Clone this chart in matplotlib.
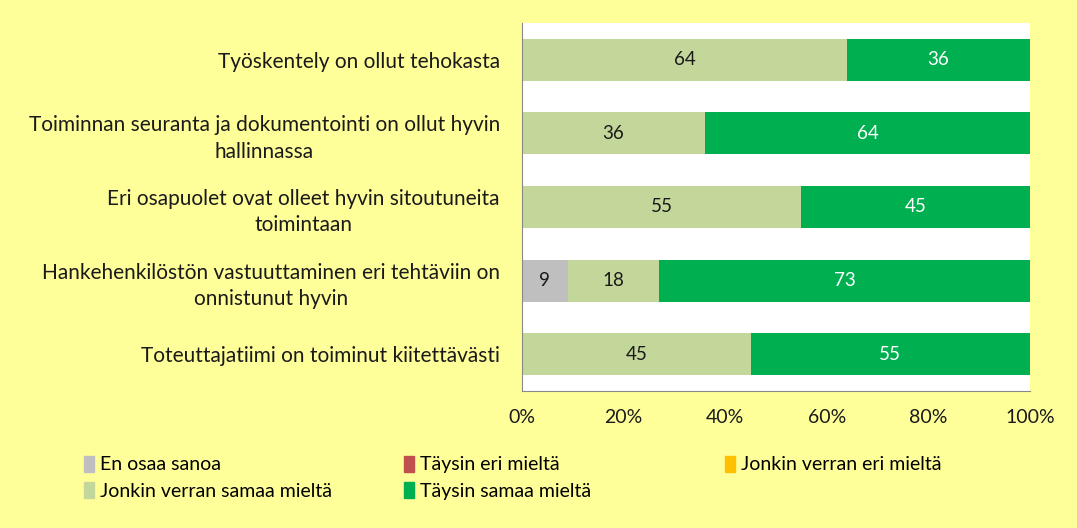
import numpy as np
import matplotlib.pyplot as plt
from matplotlib.patches import Patch

plt.rcParams['font.family'] = ['Lato', 'DejaVu Sans']

# väittämät (ylhäältä alas)
categories = [
    'Työskentely on ollut tehokasta',
    'Toiminnan seuranta ja dokumentointi on ollut hyvin\nhallinnassa',
    'Eri osapuolet ovat olleet hyvin sitoutuneita\ntoimintaan',
    'Hankehenkilöstön vastuuttaminen eri tehtäviin on\nonnistunut hyvin',
    'Toteuttajatiimi on toiminut kiitettävästi',
]
series = ['En osaa sanoa', 'Täysin eri mieltä', 'Jonkin verran eri mieltä',
          'Jonkin verran samaa mieltä', 'Täysin samaa mieltä']
en_osaa = [0, 0, 0, 9, 0]
taysin_eri = [0, 0, 0, 0, 0]
jonkin_eri = [0, 0, 0, 0, 0]
jonkin_samaa = [64, 36, 55, 18, 45]
taysin_samaa = [36, 64, 45, 73, 55]
values = [en_osaa, taysin_eri, jonkin_eri, jonkin_samaa, taysin_samaa]
colors = ['#BFBFBF', '#C0504D', '#FFC000', '#C4D79B', '#00B050']
text_colors = ['#1a1a1a', 'white', '#1a1a1a', '#1a1a1a', 'white']
xticks = [0, 20, 40, 60, 80, 100]

bg = '#FFFF99'
fig = plt.figure(figsize=(10.77, 5.28), dpi=100, facecolor=bg)
ax = fig.add_axes([522 / 1077, 1 - 391 / 528, 508 / 1077, 368 / 528])
ax.set_facecolor('white')

y = np.arange(len(categories))
left = np.zeros(len(categories))
for vals, c, tc, name in zip(values, colors, text_colors, series):
    vals = np.array(vals, dtype=float)
    bars = ax.barh(y, vals, left=left, height=0.57, color=c, label=name)
    for b, v in zip(bars, vals):
        if v > 0:
            ax.text(b.get_x() + b.get_width() / 2, b.get_y() + b.get_height() / 2,
                    f'{v:.0f}', ha='center', va='center', color=tc, fontsize=13.5)
    left += vals

ax.set_xlim(0, 100)
ax.set_ylim(len(categories) - 0.5, -0.5)
ax.set_xticks(xticks)
ax.set_xticklabels([f'{t}%' for t in xticks], fontsize=14, color='#1a1a1a')
ax.set_yticks(y)
ax.set_yticklabels(categories, fontsize=15, color='#1a1a1a', ha='right',
                   multialignment='center', linespacing=1.4)
ax.tick_params(axis='both', length=0)
ax.tick_params(axis='x', pad=13)
ax.tick_params(axis='y', pad=16)
for s in ['top', 'right']:
    ax.spines[s].set_visible(False)
for s in ['left', 'bottom']:
    ax.spines[s].set_color('#888888')

# selite kolmessa sarakkeessa
handles = [Patch(color=c) for c in colors]
cols = [(88, [0, 3]), (408, [1, 4]), (729, [2])]
for xpos, idx in cols:
    leg = fig.legend([handles[i] for i in idx], [series[i] for i in idx],
                     loc='upper left', bbox_to_anchor=(xpos / 1077 - 0.004, 1 - 456 / 528),
                     frameon=False, fontsize=14, handlelength=0.55, handleheight=0.85,
                     handletextpad=0.3, labelspacing=0.45, borderpad=0, borderaxespad=0)

fig.savefig('out.png', dpi=100, facecolor=bg)
